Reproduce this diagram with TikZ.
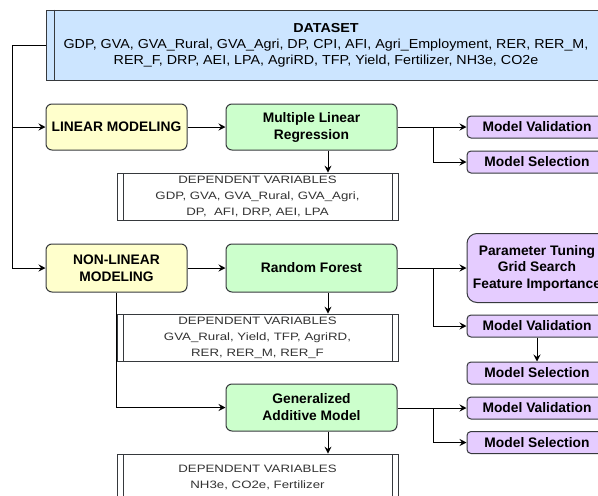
\documentclass[tikz,border=0pt]{standalone}
\usepackage{fontspec}
\setmainfont{Liberation Sans}
\newfontfamily\widefont[FakeStretch=1.1]{Liberation Sans}
\newfontfamily\depfont[FakeStretch=1.24]{Liberation Sans}
\usetikzlibrary{arrows.meta}
\definecolor{dataBlue}{HTML}{CCE5FF}
\definecolor{modelYellow}{HTML}{FFFFCC}
\definecolor{methodGreen}{HTML}{CCFFCC}
\definecolor{evalPurple}{HTML}{E5CCFF}
\definecolor{boxLine}{HTML}{36393D}
\definecolor{depText}{HTML}{333333}
\tikzset{ % Common looks of the flowchart
	box/.style={draw=boxLine, line width=1pt, rounded corners=6pt, inner sep=0pt, align=center,
		minimum width=171pt, minimum height=46pt, font=\fontsize{13.8}{17}\selectfont\bfseries},
	modelbox/.style={box, fill=modelYellow, minimum width=141pt},
	methodbox/.style={box, fill=methodGreen},
	evalbox/.style={box, fill=evalPurple, minimum width=140pt, minimum height=22pt, rounded corners=4pt},
	depbox/.style={draw=boxLine, line width=0.8pt, inner sep=0pt, align=center, fill=white,
		minimum width=281pt, minimum height=47pt, font=\depfont\fontsize{10.7}{16}\selectfont, text=depText,
		path picture={ % Side stripes
			\draw [boxLine, line width=0.8pt] ([xshift=6pt]path picture bounding box.north west) -- ([xshift=6pt]path picture bounding box.south west);
			\draw [boxLine, line width=0.8pt] ([xshift=-6pt]path picture bounding box.north east) -- ([xshift=-6pt]path picture bounding box.south east);
		}},
	flow/.style={line width=1pt, -{Stealth[length=7pt, width=7pt, inset=2.5pt]}},
	link/.style={line width=1pt}
}

\begin{document}
\begin{tikzpicture}[x=1pt, y=-1pt]
		\useasboundingbox (0,0) rectangle (598,496);
		\clip (0,0) rectangle (598,496);
		% Dataset
		\node [draw=boxLine, line width=1pt, fill=dataBlue, minimum width=560pt, minimum height=70pt, inner sep=0pt,
			align=center, font=\widefont\fontsize{13}{16}\selectfont] (dataset) at (326,45)
			{{\bfseries DATASET}\\GDP, GVA, GVA\_Rural, GVA\_Agri, DP, CPI, AFI, Agri\_Employment, RER, RER\_M,\\RER\_F, DRP, AEI, LPA, AgriRD, TFP, Yield, Fertilizer, NH3e, CO2e};
		\draw [boxLine, line width=1pt] ([xshift=9pt]dataset.north west) -- ([xshift=9pt]dataset.south west);
		% Modeling branches
		\node [modelbox] (linmod) at (116.5,127) {LINEAR MODELING};
		\node [modelbox, minimum height=48pt] (nonlin) at (116.5,268) {NON-LINEAR\\MODELING};
		% Methods
		\node [methodbox] (mlr) at (311.5,127) {Multiple Linear\\Regression};
		\node [methodbox, minimum height=48pt] (rf) at (311.5,268) {Random Forest};
		\node [methodbox, minimum height=47pt] (gam) at (311.5,407.5) {Generalized\\Additive Model};
		% Dependent variables
		\node [depbox] (dep1) at (257.5,196.5) {DEPENDENT VARIABLES\\GDP, GVA, GVA\_Rural, GVA\_Agri,\\DP,\ \ AFI, DRP, AEI, LPA};
		\node [depbox] (dep2) at (257.5,337.5) {DEPENDENT VARIABLES\\GVA\_Rural, Yield, TFP, AgriRD,\\RER, RER\_M, RER\_F};
		\node [depbox] (dep3) at (257.5,477.5) {DEPENDENT VARIABLES\\NH3e, CO2e, Fertilizer};
		% Evaluation
		\node [evalbox] (mv1) at (537,127) {Model Validation};
		\node [evalbox] (ms1) at (537,162) {Model Selection};
		\node [evalbox, minimum height=69pt, rounded corners=10pt, font=\fontsize{13.8}{16.5}\selectfont\bfseries] (tune) at (537,268)
			{Parameter Tuning\\Grid Search\\Feature Importance};
		\node [evalbox] (mv2) at (537,326) {Model Validation};
		\node [evalbox] (ms2) at (537,373) {Model Selection};
		\node [evalbox] (mv3) at (537,408) {Model Validation};
		\node [evalbox] (ms3) at (537,442.5) {Model Selection};
		% Split points
		\coordinate (feed) at (12,45);
		\coordinate (mlrsplit) at (433,127);
		\coordinate (rfsplit) at (433,268);
		\coordinate (gamsplit) at (433,408);
		% Connectors
		\draw [flow] (dataset.west) -- (feed) |- (nonlin.west);
		\draw [flow] (feed) |- (linmod.west);
		\draw [flow] (linmod) -- (mlr);
		\draw [flow] (nonlin) -- (rf);
		\draw [flow] (nonlin.south) |- (gam.west);
		\draw [flow] (mlr.east) -- (mv1.west);
		\draw [flow] (mlrsplit) |- (ms1.west);
		\draw [flow] (rf.east) -- (tune.west);
		\draw [flow] (rfsplit) |- (mv2.west);
		\draw [flow] (mv2) -- (ms2);
		\draw [flow] (gam.east |- mv3) -- (mv3.west);
		\draw [flow] (gamsplit) |- (ms3.west);
		\draw [flow] ([xshift=16.5pt]mlr.south) -- ([xshift=16.5pt]mlr.south |- dep1.north);
		\draw [flow] ([xshift=16.5pt]rf.south) -- ([xshift=16.5pt]rf.south |- dep2.north);
		\draw [flow] ([xshift=16.5pt]gam.south) -- ([xshift=16.5pt]gam.south |- dep3.north);
		\end{tikzpicture}
\end{document}
